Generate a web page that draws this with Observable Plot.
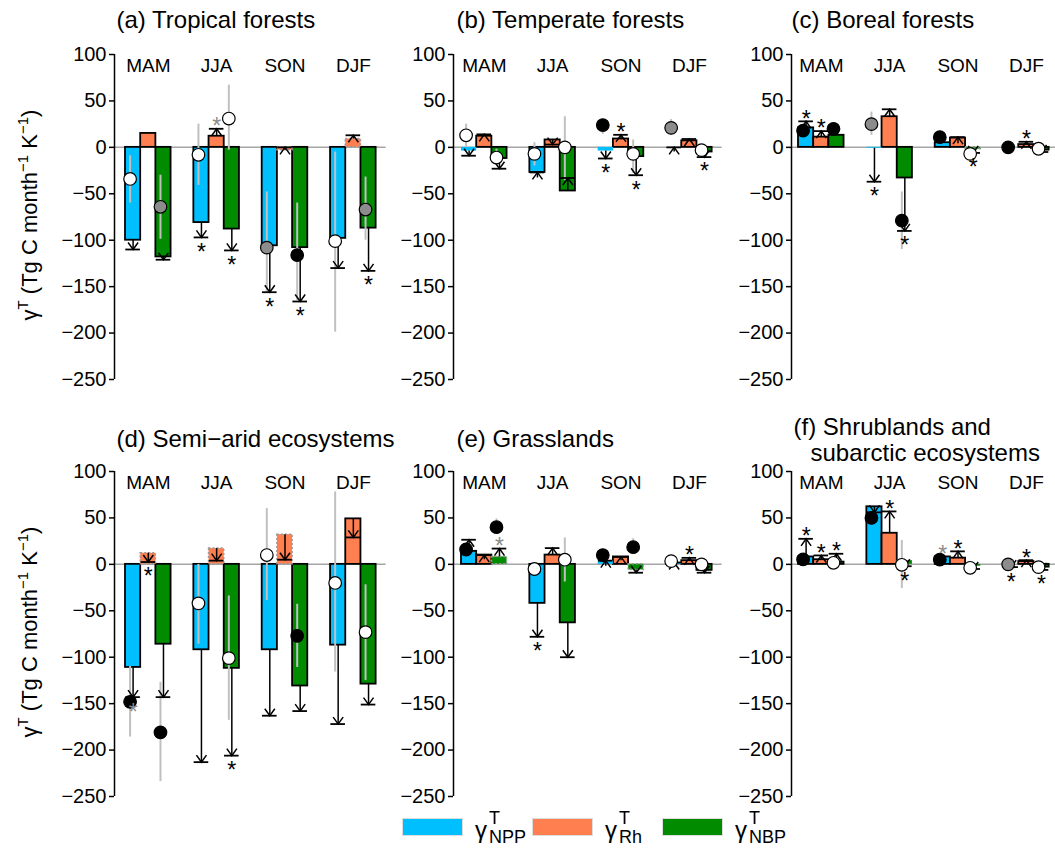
<!DOCTYPE html>
<html><head><meta charset="utf-8">
<script src="https://cdn.jsdelivr.net/npm/d3@7"></script>
<script src="https://cdn.jsdelivr.net/npm/@observablehq/plot@0.6"></script>
<style>
body{margin:0;background:#fff;font-family:"Liberation Sans",Arial,Helvetica,sans-serif;}
#fig{position:relative;width:1055px;height:849px;overflow:hidden;background:#fff;}
.pan{position:absolute;}
.ylab{position:absolute;font-size:22px;white-space:nowrap;transform:translate(-50%,-50%) rotate(-90deg);color:#000;}
.ylab sup{font-size:15px;vertical-align:0.6em;line-height:0;}
.sw{position:absolute;width:61px;height:18px;box-sizing:border-box;border:1px solid #ddd;}
.lg{position:absolute;line-height:1;white-space:nowrap;color:#000;}
</style></head><body><div id="fig"></div>
<script>
// ---------- shared labels ----------
const seasons = ["MAM", "JJA", "SON", "DJF"];
const variables = ["NPP", "Rh", "NBP"];
const varColors = ["#00BFFF", "#FF7F50", "#008B00"];
const yTicks = [-250, -200, -150, -100, -50, 0, 50, 100];

// order of each array: MAM(NPP,Rh,NBP), JJA(...), SON(...), DJF(...)
// ---------- (a) Tropical forests ----------
const titleA = "(a) Tropical forests";
const barA    = [-100, 15, -118, -81, 12, -88, -106, -3, -108, -98, 9, -87];
const fromA   = [null, null, null, null, null, null, null, null, null, null, null, null];
const toA     = [-110, null, -121, -97, 20, -111, -156, 0, -166, -130, 13, -133];
const starA   = ["", "", "", "k", "g", "k", "k", "", "k", "", "", "k"];
const circA   = [-34, null, -64, -8, null, 31, -108, null, -116, -101, null, -67];
const cfillA  = ["w", null, "g", "w", null, "w", "g", null, "k", "w", null, "g"];
const cloA    = [-60, null, -99, -41, null, -3, -157, null, -165, -199, null, -100];
const chiA    = [-9, null, -30, 25, null, 67, -48, null, -60, -5, null, -32];
const edgeA   = ["k", "k", "k", "k", "k", "k", "k", "d", "k", "k", "d", "k"];

// ---------- (b) Temperate forests ----------
const titleB = "(b) Temperate forests";
const barB    = [-4, 12, -12, -27, 8, -47, -4, 9, -10, 0, 7, -5];
const fromB   = [null, null, null, -33, null, null, null, null, null, -5, null, null];
const toB     = [-9, 14, -23, -27, 3, -33, -12, 13.5, -30, 0, 9, -10.5];
const starB   = ["", "", "", "", "", "", "k", "k", "k", "", "", "k"];
const circB   = [13, null, -11, -7, null, 0, 24, null, -7, 21, null, -3];
const cfillB  = ["w", null, "w", "w", null, "w", "k", null, "w", "g", null, "w"];
const cloB    = [0, null, -18, -20, null, -36, 14, null, -28, 13, null, -6];
const chiB    = [25, null, -2, 5, null, 33, 30, null, 8, 30, null, 0];
const edgeB   = ["n", "k", "k", "k", "k", "k", "n", "k", "k", "n", "k", "k"];

// ---------- (c) Boreal forests ----------
const titleC = "(c) Boreal forests";
const barC    = [21, 11, 13, -1, 33, -33, 5, 10, -2, 0, 3, -3];
const fromC   = [null, null, null, null, null, null, null, 4, null, null, null, null];
const toC     = [28, 17.5, null, -37, 41, -90, null, 11, -6, null, 6, -5];
const starC   = ["k", "k", "", "k", "", "k", "", "", "k", "", "k", ""];
const circC   = [18, null, 20, 25, null, -79, 11, null, -7, 0, null, -1.5];
const cfillC  = ["k", null, "k", "g", null, "k", "k", null, "w", "k", null, "w"];
const cloC    = [14, null, 16, 13, null, -110, 9, null, -10, -2, null, -3];
const chiC    = [22, null, 24, 38, null, -48, 13, null, -4, 2, null, 0];
const edgeC   = ["k", "k", "k", "n", "k", "k", "k", "k", "d", "n", "k", "k"];

// ---------- (d) Semi-arid ecosystems ----------
const titleD = "(d) Semi\u2212arid ecosystems";
const barD    = [-111, 12, -86, -92, 17, -112, -92, 32, -131, -87, 49, -129];
const fromD   = [null, null, null, null, null, null, null, null, null, null, null, null];
const toD     = [-143, 2.5, -143, -213, 4, -206, -163, 5, -158, -172, 29, -151];
const starD   = ["g", "k", "", "", "", "k", "", "", "", "", "", ""];
const circD   = [-148, null, -181, -42, null, -101, 10, null, -77, -20, null, -73];
const cfillD  = ["k", null, "k", "w", null, "w", "w", null, "k", "w", null, "w"];
const cloD    = [-186, null, -234, -86, null, -168, -39, null, -111, -116, null, -125];
const chiD    = [-110, null, -127, 0, null, -34, 60, null, -43, 78, null, -22];
const edgeD   = ["k", "d", "k", "k", "d", "k", "k", "d", "k", "k", "k", "k"];

// ---------- (e) Grasslands ----------
const titleE = "(e) Grasslands";
const barE    = [14, 10, 8, -42, 10, -63, 4, 8, -6, 1, 4, -6.5];
const fromE   = [null, 5, null, null, null, null, -2, 4, null, -3, null, null];
const toE     = [26.5, 10, 17, -78, 17.5, -100, 4, 8, -9, 2, 7, -9];
const starE   = ["", "", "g", "k", "", "", "", "", "", "", "k", ""];
const circE   = [16, null, 40, -5, null, 5, 10, null, 18.5, 3.5, null, 0];
const cfillE  = ["k", null, "k", "w", null, "w", "k", null, "k", "w", null, "w"];
const cloE    = [13, null, 33, -8, null, -19, 7, null, 13, 1, null, -2];
const chiE    = [19, null, 49, -2, null, 28.5, 13, null, 27.5, 6, null, 2];
const edgeE   = ["k", "k", "d", "k", "k", "k", "n", "k", "d", "n", "k", "k"];

// ---------- (f) Shrublands and subarctic ecosystems ----------
const titleF1 = "(f) Shrublands and";
const titleF2 = "subarctic ecosystems";
const barF    = [8, 5, 2.4, 62, 33.5, 4, 8, 6.7, -2, 0, 3, -3];
const fromF   = [null, null, null, null, null, null, null, null, null, null, null, null];
const toF     = [27.5, 9.6, 11.4, 56, 57, -2, null, 14, -5, -3, 4.5, -6];
const starF   = ["k", "k", "k", "", "k", "k", "g", "k", "", "k", "k", "k"];
const circF   = [5.3, null, 1.7, 50, null, -0.5, 5, null, -3.7, 0, null, -3];
const cfillF  = ["k", null, "w", "k", null, "w", "k", null, "w", "g", null, "w"];
const cloF    = [3, null, 0, 46, null, -26, 3, null, -6, -2, null, -5];
const chiF    = [7, null, 4, 54, null, 25.7, 7, null, -1, 2, null, -1];
const edgeF   = ["k", "k", "k", "k", "k", "n", "k", "k", "n", "n", "k", "k"];

// ---------- assemble ----------
const panels = [
  {title: [titleA], bar: barA, from: fromA, to: toA, star: starA, cv: circA, cf: cfillA, lo: cloA, hi: chiA, edge: edgeA},
  {title: [titleB], bar: barB, from: fromB, to: toB, star: starB, cv: circB, cf: cfillB, lo: cloB, hi: chiB, edge: edgeB},
  {title: [titleC], bar: barC, from: fromC, to: toC, star: starC, cv: circC, cf: cfillC, lo: cloC, hi: chiC, edge: edgeC},
  {title: [titleD], bar: barD, from: fromD, to: toD, star: starD, cv: circD, cf: cfillD, lo: cloD, hi: chiD, edge: edgeD},
  {title: [titleE], bar: barE, from: fromE, to: toE, star: starE, cv: circE, cf: cfillE, lo: cloE, hi: chiE, edge: edgeE},
  {title: [titleF1, titleF2], bar: barF, from: fromF, to: toF, star: starF, cv: circF, cf: cfillF, lo: cloF, hi: chiF, edge: edgeF}
];

const FONT = '"Liberation Sans", Arial, Helvetica, sans-serif';
const PX = 15.19;           // pixels per bar width
const cols = [
  {left: 0,   width: 390, axis: 114, first: 125, tdx: 2},
  {left: 390, width: 338, axis: 453, first: 461, tdx: 3},
  {left: 728, width: 327, axis: 791, first: 798, tdx: 0}
];
const rowsTop = [0, 417];
const titleDy = [-34, -32];
const fillMap = {k: "black", g: "#8c8c8c", w: "white"};
const chevUp = {draw(c) { c.moveTo(-5, 7); c.lineTo(0, 0); c.lineTo(5, 7); }};
const chevDown = {draw(c) { c.moveTo(-5, -7); c.lineTo(0, 0); c.lineTo(5, -7); }};

function buildRows(P) {
  const rows = [];
  for (let s = 0; s < 4; s++) for (let v = 0; v < 3; v++) {
    const i = s * 3 + v, left = 1.5 + 4.5 * s + v;
    rows.push({s, v, left, c: left + 0.5, bar: P.bar[i], from: P.from[i] ?? P.bar[i], to: P.to[i],
      star: P.star[i], cv: P.cv[i], cf: P.cf[i], lo: P.lo[i], hi: P.hi[i], edge: P.edge[i], fill: varColors[v]});
  }
  return rows;
}

function makePanel(P, col, row) {
  const L = cols[col];
  const uL = 1.5 - (L.first - L.axis) / PX;
  const ml = L.axis - L.left;
  const rEnd = Math.min(L.width, ml + (18.66 - uL) * PX);
  const uR = uL + (rEnd - ml) / PX;
  const rows = buildRows(P);
  const arrows = rows.filter(d => d.to != null && d.to !== d.from);
  const ups = arrows.filter(d => d.to > d.from), downs = arrows.filter(d => d.to < d.from);
  const stars = rows.filter(d => d.star).map(d => {
    const hasA = d.to != null && d.to !== d.from;
    return {...d, sy: hasA ? d.to : d.bar, up: hasA ? d.to > d.from : d.bar > 0};
  });
  const circles = rows.filter(d => d.cv != null);
  const tOpts = {frameAnchor: "top-left", text: d => d, textAnchor: "start", lineAnchor: "middle", fontSize: 24};
  const titleMarks = P.title.length === 1
    ? [Plot.text(P.title, {...tOpts, dx: L.tdx, dy: titleDy[row]})]
    : [Plot.text([P.title[0]], {...tOpts, dx: L.tdx + 2, dy: -44}),
       Plot.text([P.title[1]], {...tOpts, dx: L.tdx + 19, dy: -18})];
  return Plot.plot({
    width: L.width, height: 400,
    marginLeft: ml, marginRight: L.width - rEnd, marginTop: 54, marginBottom: 21,
    x: {domain: [uL, uR], range: [ml, rEnd], axis: null},
    y: {domain: [-250, 100], axis: null},
    style: {fontFamily: FONT, fontSize: "20px", background: "transparent", overflow: "visible", color: "black"},
    marks: [
      Plot.ruleY([0], {stroke: "#a6a6a6", strokeWidth: 1.5}),
      Plot.rect(rows.filter(d => d.edge === "k"), {x1: "left", x2: d => d.left + 1, y1: () => 0, y2: "bar", fill: "fill", stroke: "black", strokeWidth: 1.8}),
      Plot.rect(rows.filter(d => d.edge === "n"), {x1: "left", x2: d => d.left + 1, y1: () => 0, y2: "bar", fill: "fill"}),
      Plot.rect(rows.filter(d => d.edge === "d"), {x1: "left", x2: d => d.left + 1, y1: () => 0, y2: "bar", fill: "fill", stroke: "#9a9a9a", strokeWidth: 1.5, strokeDasharray: "2,2"}),
      Plot.ruleX(circles, {x: "c", y1: "lo", y2: "hi", dx: -3, stroke: "#c0c0c0", strokeWidth: 2}),
      Plot.ruleX(arrows, {x: "c", y1: "from", y2: "to", stroke: "black", strokeWidth: 1.5}),
      Plot.ruleY(arrows, {x1: d => d.c - 0.48, x2: d => d.c + 0.48, y: "to", stroke: "black", strokeWidth: 1.8}),
      Plot.dot(ups, {x: "c", y: "to", symbol: chevUp, fill: "none", stroke: "black", strokeWidth: 1.5}),
      Plot.dot(downs, {x: "c", y: "to", symbol: chevDown, fill: "none", stroke: "black", strokeWidth: 1.5}),
      Plot.dot(circles, {x: "c", y: "cv", dx: -3, r: 6.3, fill: d => fillMap[d.cf], stroke: "black", strokeWidth: 1.2}),
      Plot.text(stars.filter(d => d.up), {x: "c", y: "sy", text: () => "*", dy: -2, fontSize: 23, fill: d => d.star === "g" ? "#8c8c8c" : "black"}),
      Plot.text(stars.filter(d => !d.up), {x: "c", y: "sy", text: () => "*", dy: 15, fontSize: 23, fill: d => d.star === "g" ? "#8c8c8c" : "black"}),
      Plot.ruleX([uL], {y1: () => -250, y2: () => 100, stroke: "black", strokeWidth: 1.5}),
      Plot.axisY({ticks: yTicks, tickSize: 5, tickPadding: 3, fontSize: 20, strokeWidth: 1.5, label: null}),
      Plot.text(seasons, {x: (d, i) => 3 + 4.5 * i, y: () => 100, dy: 11, text: d => d, fontSize: 19}),
      ...titleMarks
    ]
  });
}

const fig = document.getElementById("fig");
panels.forEach((P, k) => {
  const col = k % 3, row = Math.floor(k / 3);
  const div = document.createElement("div");
  div.className = "pan";
  div.style.left = cols[col].left + "px";
  div.style.top = rowsTop[row] + "px";
  div.style.width = cols[col].width + "px";
  div.appendChild(makePanel(P, col, row));
  fig.appendChild(div);
});

// y-axis titles
[215, 632].forEach(cy => {
  const d = document.createElement("div");
  d.className = "ylab";
  d.style.left = "30px";
  d.style.top = cy + "px";
  d.innerHTML = "\u03b3<sup>T</sup> (Tg C month<sup>\u22121</sup> K<sup>\u22121</sup>)";
  fig.appendChild(d);
});

// legend
const legX = [402, 532, 662];
function legText(txt, left, top, size) {
  const e = document.createElement("div");
  e.className = "lg";
  e.style.left = left + "px";
  e.style.top = top + "px";
  e.style.fontSize = size + "px";
  e.textContent = txt;
  fig.appendChild(e);
}
variables.forEach((v, i) => {
  const sw = document.createElement("div");
  sw.className = "sw";
  sw.style.left = legX[i] + "px";
  sw.style.top = "818px";
  sw.style.background = varColors[i];
  fig.appendChild(sw);
  legText("\u03b3", legX[i] + 73, 818, 24);
  legText("T", legX[i] + 87, 809, 18);
  legText(v, legX[i] + 87, 828, 18);
});
</script></body></html>
